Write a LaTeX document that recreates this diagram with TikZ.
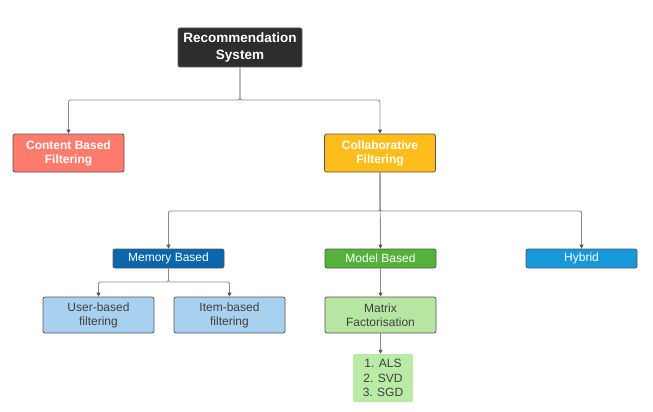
\documentclass[tikz,border=0pt]{standalone}
\usepackage{fontspec}
\setmainfont{Liberation Sans}
\usetikzlibrary{arrows.meta}
\definecolor{rootc}{HTML}{2D2D2D}
\definecolor{cbfc}{HTML}{FF7B6E}
\definecolor{cfc}{HTML}{FFBD1C}
\definecolor{memc}{HTML}{0A67AE}
\definecolor{modc}{HTML}{54B23A}
\definecolor{hybc}{HTML}{1599D8}
\definecolor{lbluec}{HTML}{A8D0EF}
\definecolor{lgreenc}{HTML}{B6E6A2}
\definecolor{listc}{HTML}{B9EBA6}
\definecolor{linec}{HTML}{8C8C8C}
\definecolor{edgec}{HTML}{555555}

\begin{document}
\begin{tikzpicture}[x=1pt,y=-1pt,
    box/.style={draw=edgec,line width=0.8pt,rounded corners=2pt,align=center,inner sep=0pt},
    big/.style={box,minimum width=111pt,minimum height=38pt,text=white,font=\fontsize{12}{14}\selectfont\bfseries},
    small/.style={box,minimum width=111pt,minimum height=19pt,text=white,font=\fontsize{12}{14}\selectfont},
    leaf/.style={box,minimum width=111pt,minimum height=36pt,text=black!75,font=\fontsize{12}{14}\selectfont},
    conn/.style={draw=linec,line width=0.9pt,rounded corners=2pt,-{Triangle[length=4pt,width=4pt,color=edgec]}}]

      \useasboundingbox (0,0) rectangle (653,412);

      \node[big,fill=rootc,minimum width=124pt,minimum height=39pt,font=\fontsize{13.5}{17}\selectfont\bfseries] (root) at (240,47.5){Recommendation\\System};
      \node[big,fill=cbfc] (cbf) at (68.5,153){Content Based\\Filtering};
      \node[big,fill=cfc] (cf) at (380,153){Collaborative\\Filtering};

      \node[small,fill=memc] (mem) at (168.5,258.5){Memory Based};
      \node[small,fill=modc] (mod) at (380.5,258.5){Model Based};
      \node[small,fill=hybc] (hyb) at (581.5,258.5){Hybrid};

      \node[leaf,fill=lbluec] (ubf) at (98.5,315){User-based\\filtering};
      \node[leaf,fill=lbluec] (ibf) at (229.5,315){Item-based\\filtering};
      \node[leaf,fill=lgreenc] (mf) at (380.5,315){Matrix\\Factorisation};

      \node[draw=none,fill=listc,rounded corners=2pt,minimum width=60pt,minimum height=48pt,align=center,inner sep=0pt,text=black!75,font=\fontsize{12}{14.5}\selectfont] (algs) at (383,378){1. ALS\\2. SVD\\3. SGD};

      % bus lines
      \coordinate (rbus) at (0,100);
      \coordinate (cbus) at (0,211);
      \coordinate (mbus) at (0,282);

      \draw[conn] (root.south) -- (root.south |- rbus) -| (cbf.north);
      \draw[conn] (root.south) -- (root.south |- rbus) -| (cf.north);
      \draw[conn] (cf.south) -- (cf.south |- cbus) -| (mem.north);
      \draw[conn] (cf.south) -- (mod.north);
      \draw[conn] (cf.south) -- (cf.south |- cbus) -| (hyb.north);
      \draw[conn] (mem.south) -- (mem.south |- mbus) -| (ubf.north);
      \draw[conn] (mem.south) -- (mem.south |- mbus) -| (ibf.north);
      \draw[conn] (mod.south) -- (mf.north);
      \draw[conn] (mf.south) -- (mf.south |- algs.north);
    \end{tikzpicture}
\end{document}
